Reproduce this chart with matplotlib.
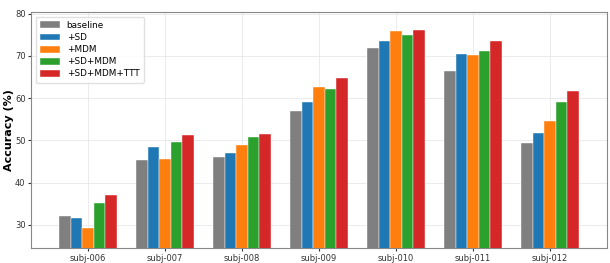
import matplotlib
matplotlib.use("Agg")
import matplotlib.pyplot as plt
import numpy as np

subjects = ["subj-006", "subj-007", "subj-008", "subj-009", "subj-010", "subj-011", "subj-012"]
methods = ["baseline", "+SD", "+MDM", "+SD+MDM", "+SD+MDM+TTT"]
colors = ["#7f7f7f", "#1f77b4", "#ff7f0e", "#2ca02c", "#d62728"]

baseline = [32.2, 45.3, 46.0, 57.0, 71.9, 66.4, 49.5]
sd = [31.5, 48.5, 47.0, 59.0, 73.6, 70.5, 51.7]
mdm = [29.2, 45.5, 48.9, 62.7, 76.0, 70.2, 54.6]
sd_mdm = [35.2, 49.6, 50.9, 62.2, 74.9, 71.3, 59.2]
sd_mdm_ttt = [37.1, 51.2, 51.6, 64.7, 76.2, 73.5, 61.7]

series = [baseline, sd, mdm, sd_mdm, sd_mdm_ttt]

fig = plt.figure(figsize=(6.1, 2.63), dpi=100)
ax = fig.add_axes([0.051, 0.057, 0.944, 0.897])

x = np.arange(len(subjects))
w = 0.15
for i, (vals, name, c) in enumerate(zip(series, methods, colors)):
    ax.bar(x + (i - 2) * w, vals, w, color=c, label=name,
           edgecolor="white", linewidth=0.3, zorder=3)

ax.set_xticks(x)
ax.set_xticklabels(subjects, fontsize=6)
ax.set_yticks([30, 40, 50, 60, 70, 80])
ax.tick_params(axis="y", labelsize=6, length=2.5, pad=1.5, colors="#333333")
ax.tick_params(axis="x", length=2.5, pad=1.5, colors="#333333")
ax.set_ylim(24.5, 80.4)
ax.set_xlim(-0.74, 6.74)
ax.set_ylabel("Accuracy (%)", fontsize=8, fontweight="bold", labelpad=1)

ax.grid(True, color="#e8e8e8", linewidth=0.6, zorder=0)
for s in ax.spines.values():
    s.set_color("#888888")
    s.set_linewidth(0.8)

ax.legend(loc="upper left", fontsize=6.4, framealpha=0.9, edgecolor="#dddddd",
          handlelength=2.2, handleheight=0.8, borderpad=0.5, labelspacing=0.35)

fig.savefig("out.png", dpi=100)
